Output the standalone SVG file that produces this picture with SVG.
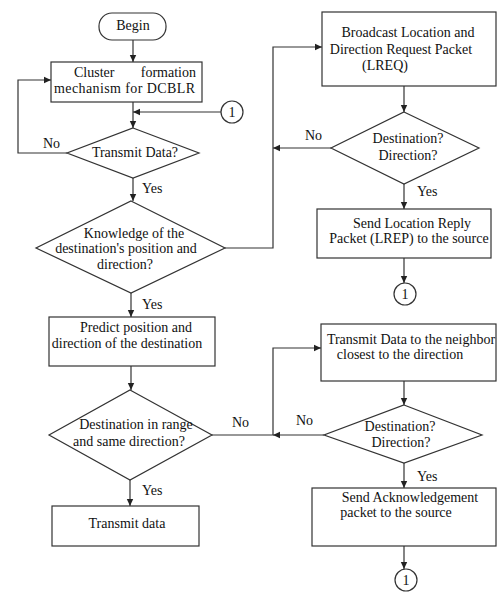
<svg xmlns="http://www.w3.org/2000/svg" width="497" height="594" viewBox="0 0 497 594">
<style>
.s{fill:#fff;stroke:#333;stroke-width:1.2}
.c{fill:none;stroke:#333;stroke-width:1.2}
text{font-family:"Liberation Serif","Times New Roman",serif;font-size:14px;fill:#111}
.m{text-anchor:middle}
</style>
<defs>
<marker id="a" markerWidth="8" markerHeight="8" refX="7" refY="4" orient="auto" markerUnits="userSpaceOnUse">
<path d="M0,0.8 L7,4 L0,7.2 Z" fill="#222"/>
</marker>
</defs>
<rect width="497" height="594" fill="#fff"/>
<g id="connectors">
<path class="c" d="M133,40 V62" marker-end="url(#a)"/>
<path class="c" d="M133,102 V128" marker-end="url(#a)"/>
<path class="c" d="M221,112 H133" marker-end="url(#a)"/>
<path class="c" d="M67,153 H18 V80 H51" marker-end="url(#a)"/>
<path class="c" d="M133,178 V201" marker-end="url(#a)"/>
<path class="c" d="M225,248 H273 V47 H322" marker-end="url(#a)"/>
<path class="c" d="M331,148 H273" marker-end="url(#a)"/>
<path class="c" d="M404,86 V112" marker-end="url(#a)"/>
<path class="c" d="M404,184 V209" marker-end="url(#a)"/>
<path class="c" d="M404,258 V283" marker-end="url(#a)"/>
<path class="c" d="M131,293 V317" marker-end="url(#a)"/>
<path class="c" d="M131,366 V390" marker-end="url(#a)"/>
<path class="c" d="M212,435 H273 V348 H321" marker-end="url(#a)"/>
<path class="c" d="M324,435 H273" marker-end="url(#a)"/>
<path class="c" d="M404,381 V405" marker-end="url(#a)"/>
<path class="c" d="M404,463 V488" marker-end="url(#a)"/>
<path class="c" d="M404,546 V569" marker-end="url(#a)"/>
<path class="c" d="M130,480 V506" marker-end="url(#a)"/>
<text x="43" y="148">No</text>
<text x="142" y="193">Yes</text>
<text x="142" y="309">Yes</text>
<text x="232" y="427">No</text>
<text x="142" y="495">Yes</text>
<text x="305" y="140">No</text>
<text x="417" y="196">Yes</text>
<text x="296" y="425">No</text>
<text x="417" y="481">Yes</text>
</g>
<g id="begin">
<rect class="s" x="99" y="13" width="67" height="27" rx="13"/>
<text class="m" x="133" y="30">Begin</text>
</g>
<g id="cluster">
<rect class="s" x="51" y="62" width="151" height="40"/>
<text x="74" y="77">Cluster</text>
<text x="196" y="77" text-anchor="end">formation</text>
<text x="54" y="93" textLength="141">mechanism for DCBLR</text>
</g>
<g id="connector1a">
<circle class="s" cx="232" cy="112" r="11"/>
<text class="m" x="232" y="117">1</text>
</g>
<g id="transmitQ">
<polygon class="s" points="133,128 199,153 133,178 67,153"/>
<text class="m" x="135" y="157">Transmit Data?</text>
</g>
<g id="knowledge">
<polygon class="s" points="131,201 225,248 131,293 36,248"/>
<text class="m" x="134" y="238">Knowledge of the</text>
<text class="m" x="126" y="253">destination's position and</text>
<text class="m" x="125" y="269">direction?</text>
</g>
<g id="predict">
<rect class="s" x="49" y="317" width="166" height="49"/>
<text class="m" x="136" y="332">Predict position and</text>
<text class="m" x="127" y="348">direction of the destination</text>
</g>
<g id="inrange">
<polygon class="s" points="130,390 212,435 130,480 49,435"/>
<text class="m" x="136" y="429">Destination in range</text>
<text class="m" x="129" y="446">and same direction?</text>
</g>
<g id="transmitdata">
<rect class="s" x="52" y="506" width="147" height="40"/>
<text class="m" x="127" y="528">Transmit data</text>
</g>
<g id="broadcast">
<rect class="s" x="322" y="12" width="174" height="74"/>
<text class="m" x="408" y="37">Broadcast Location and</text>
<text class="m" x="401" y="54">Direction Request Packet</text>
<text class="m" x="385" y="70">(LREQ)</text>
</g>
<g id="destdir1">
<polygon class="s" points="404,112 479,148 404,184 331,148"/>
<text class="m" x="408" y="143">Destination?</text>
<text class="m" x="408" y="160">Direction?</text>
</g>
<g id="sendlrep">
<rect class="s" x="317" y="209" width="174" height="49"/>
<text class="m" x="412" y="228">Send Location Reply</text>
<text class="m" x="409" y="243">Packet (LREP) to the source</text>
</g>
<g id="connector1b">
<circle class="s" cx="405" cy="294" r="11"/>
<text class="m" x="405" y="299">1</text>
</g>
<g id="neighbor">
<rect class="s" x="321" y="324" width="175" height="57"/>
<text class="m" x="411" y="344">Transmit Data to the neighbor</text>
<text class="m" x="400" y="359">closest to the direction</text>
</g>
<g id="destdir2">
<polygon class="s" points="404,405 482,435 404,463 324,435"/>
<text class="m" x="400" y="431">Destination?</text>
<text class="m" x="401" y="447">Direction?</text>
</g>
<g id="ack">
<rect class="s" x="312" y="488" width="184" height="58"/>
<text class="m" x="410" y="502">Send Acknowledgement</text>
<text class="m" x="396" y="517">packet to the source</text>
</g>
<g id="connector1c">
<circle class="s" cx="406" cy="580" r="11"/>
<text class="m" x="406" y="585">1</text>
</g>
</svg>
